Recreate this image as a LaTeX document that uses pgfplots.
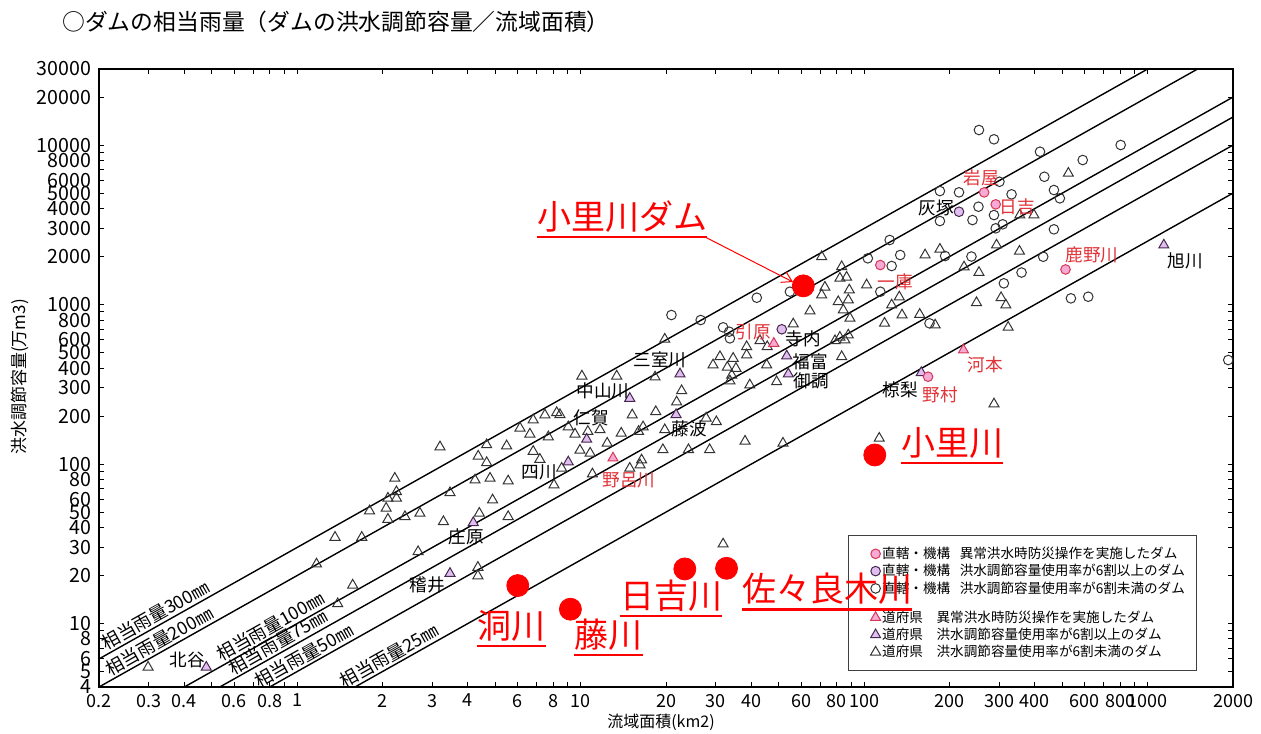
\documentclass[border=0pt]{standalone}
\usepackage{pgfplots}
\pgfplotsset{compat=1.18}
\usepackage{fontspec}
\setmainfont{Noto Sans CJK JP}
\usetikzlibrary{arrows.meta}
\definecolor{pinkF}{RGB}{247,170,214}
\definecolor{pinkE}{RGB}{215,55,85}
\definecolor{purF}{RGB}{225,190,240}
\definecolor{purE}{RGB}{70,40,80}
\definecolor{lblred}{RGB}{225,50,55}
\newcommand\ulab[3]{%
  \node[text=red, font=\fontsize{17}{17}\selectfont, inner sep=0pt, anchor=base] (u) at (#1,#2+3.8pt) {#3};
  \draw[red, line width=1.3pt] (u.west|-0,#2) -- (u.east|-0,#2);}
\begin{document}
\begin{tikzpicture}
\useasboundingbox (-49.5pt,-23pt) rectangle (581pt,343.5pt);
\begin{axis}[
  scale only axis, width=567pt, height=309pt,
  xmode=log, ymode=log,
  xmin=0.2, xmax=2000, ymin=4, ymax=30000,
  xtick={0.2,0.3,0.4,0.6,0.8,1,2,3,4,6,8,10,20,30,40,60,80,100,200,300,400,600,800,1000,2000},
  xticklabels={0.2,0.3,0.4,0.6,0.8,1,2,3,4,6,8,10,20,30,40,60,80,100,200,300,400,600,800,1000,2000},
  minor xtick={0.5,0.7,0.9,5,7,9,50,70,90,500,700,900},
  ytick={4,5,6,8,10,20,30,40,50,60,80,100,200,300,400,500,600,800,1000,2000,3000,4000,5000,6000,8000,10000,20000,30000},
  yticklabels={4,5,6,8,10,20,30,40,50,60,80,100,200,300,400,500,600,800,1000,2000,3000,4000,5000,6000,8000,10000,20000,30000},
  minor ytick={7,9,70,90,700,900,7000,9000},
  tick align=inside,
  major tick length=2.5pt, minor tick length=2.5pt,
  tick style={black, line width=0.5pt},
  axis line style={line width=0.6pt},
  /pgf/number format/assume math mode=true,
  yticklabel style={font=\fontsize{9.8}{10}\selectfont, xshift=-0.5pt},
  xticklabel style={font=\fontsize{9}{10}\selectfont},
  legend cell align=left,
  legend style={at={(0.6605,0.246)}, anchor=north west, font=\fontsize{6.8}{8}\selectfont,
    draw=black!75, line width=0.5pt, inner xsep=5pt, inner ysep=5pt,
    nodes={inner sep=0.8pt, text depth=0.1em}, row sep=0.3pt},
]
% legend images
\addlegendimage{only marks, mark=*, mark size=2.4pt, mark options={fill=pinkF, draw=pinkE, line width=0.5pt}}
\addlegendentry{直轄・機構\hspace{0.7em}異常洪水時防災操作を実施したダム}
\addlegendimage{only marks, mark=*, mark size=2.4pt, mark options={fill=purF, draw=purE, line width=0.5pt}}
\addlegendentry{直轄・機構\hspace{0.7em}洪水調節容量使用率が6割以上のダム}
\addlegendimage{only marks, mark=o, mark size=2.4pt, mark options={draw=black!80, line width=0.5pt}}
\addlegendentry{直轄・機構\hspace{0.7em}洪水調節容量使用率が6割未満のダム}
\addlegendimage{empty legend}
\addlegendentry{\rule{0pt}{3pt}}
\addlegendimage{only marks, mark=triangle*, mark size=2.9pt, mark options={fill=pinkF, draw=pinkE, line width=0.5pt}}
\addlegendentry{道府県\hspace{1em}異常洪水時防災操作を実施したダム}
\addlegendimage{only marks, mark=triangle*, mark size=2.9pt, mark options={fill=purF, draw=purE, line width=0.5pt}}
\addlegendentry{道府県\hspace{1em}洪水調節容量使用率が6割以上のダム}
\addlegendimage{only marks, mark=triangle, mark size=2.9pt, mark options={draw=black!80, line width=0.5pt}}
\addlegendentry{道府県\hspace{1em}洪水調節容量使用率が6割未満のダム}

% equivalent rainfall lines (capacity = 0.1 * R * area)
\addplot[black, line width=0.7pt, no marks, forget plot] coordinates {(0.2,6) (2000,60000)};
\addplot[black, line width=0.7pt, no marks, forget plot] coordinates {(0.2,4) (2000,40000)};
\addplot[black, line width=0.7pt, no marks, forget plot] coordinates {(0.2,2) (2000,20000)};
\addplot[black, line width=0.7pt, no marks, forget plot] coordinates {(0.2,1.5) (2000,15000)};
\addplot[black, line width=0.7pt, no marks, forget plot] coordinates {(0.2,1) (2000,10000)};
\addplot[black, line width=0.7pt, no marks, forget plot] coordinates {(0.2,0.5) (2000,5000)};

\node[rotate=29.36, anchor=south, inner sep=1pt, font=\fontsize{9}{9}\selectfont] at (axis cs:0.33,9.9) {相当雨量300㎜};
\node[rotate=29.36, anchor=south, inner sep=1pt, font=\fontsize{9}{9}\selectfont] at (axis cs:0.34,6.8) {相当雨量200㎜};
\node[rotate=29.36, anchor=south, inner sep=1pt, font=\fontsize{9}{9}\selectfont] at (axis cs:0.84,8.4) {相当雨量100㎜};
\node[rotate=29.36, anchor=south, inner sep=1pt, font=\fontsize{9}{9}\selectfont] at (axis cs:0.89,6.68) {相当雨量75㎜};
\node[rotate=29.36, anchor=south, inner sep=1pt, font=\fontsize{9}{9}\selectfont] at (axis cs:1.10,5.5) {相当雨量50㎜};
\node[rotate=29.36, anchor=south, inner sep=1pt, font=\fontsize{9}{9}\selectfont] at (axis cs:2.2,5.5) {相当雨量25㎜};

% open triangles
\addplot[only marks, mark=triangle, mark size=2.9pt, mark options={draw=black!80, line width=0.5pt}, forget plot] coordinates {
(0.298,5.32) (1.17,23.6) (1.57,17.4) (1.39,13.3) (1.36,34.7) (1.69,34.7) (1.80,50.8) (2.06,52.8) (2.09,61) (2.24,61) (2.24,67) (2.21,81.4) (2.09,45) (4.34,22.5) (4.34,19.9) (2.67,28.2) (2.40,46.8) (2.71,49.1) (3.28,43.5) (4.39,49.1) (5.55,46.8) (3.46,66.1) (4.89,59.5) (4.24,79.4) (4.79,81.4) (5.55,78.3) (8.05,73.9) (3.19,128) (4.66,132) (5.48,130) (4.35,112) (4.66,102) (6.11,168) (6.62,154) (6.80,189) (7.48,203) (8.23,210) (8.45,204) (7.69,148) (6.80,120) (7.18,107) (9.04,171) (9.55,154) (10.6,160) (11.7,164) (9.94,122) (10.8,117) (12.4,135) (13.9,156) (15.2,203) (16.0,160) (16.6,171) (16.4,106) (8.57,94) (11.0,86.6) (14.9,94) (16.2,98.6) (10.1,356) (13.4,356) (18.3,351) (19.8,606) (22.7,288) (21.8,245) (18.4,213) (19.8,164) (27.7,194) (30.1,184) (19.5,123) (24.0,123) (28.5,123) (38.0,139) (51.7,135) (113,145) (31.8,31.5) (29.3,418) (31.0,471) (32.9,404) (34.5,460) (35.3,398) (34.1,361) (33.6,332) (38.5,544) (38.5,483) (42.9,593) (45.5,544) (45.3,418) (39.5,313) (49.1,328) (56.2,755) (64.4,911) (70.8,1995) (83.3,1727) (86.7,1482) (82.1,1461) (72.7,1283) (70.8,1148) (88.6,1234) (87.9,1068) (81.0,1042) (84.4,924) (89.1,820) (87.9,644) (82.1,623) (78.9,593) (85.5,599) (83.3,471) (118,763) (125,993) (102,1326) (136,860) (157,867) (178,744) (164,2045) (185,2220) (225,1720) (254,1588) (293,2360) (353,2157) (249,1027) (304,1104) (316,993) (322,720) (287,238) (525,6650) (354,3640) (397,3640) (133,1115)
};
% open circles
\addplot[only marks, mark=o, mark size=2.4pt, mark options={draw=black!80, line width=0.5pt}, forget plot] coordinates {
(20.9,860) (26.5,800) (31.8,720) (33.4,676) (33.6,614) (41.8,1104) (54.7,1204) (103,1950) (114,1204) (125,1745) (123,2540) (134,2045) (193,2016) (239,2001) (428,1995) (311,1359) (359,1588) (536,1094) (617,1120) (170,763) (185,5150) (185,3340) (216,5055) (254,12430) (287,10870) (417,9085) (803,10010) (590,8060) (432,6330) (300,5890) (331,4910) (467,5225) (490,4636) (253,4108) (287,3641) (241,3389) (308,3185) (291,3006) (467,2963) (1924,449)
};
% pink triangles
\addplot[only marks, mark=triangle*, mark size=2.9pt, mark options={fill=pinkF, draw=pinkE, line width=0.5pt}, forget plot] coordinates {
(48,571) (224,519) (13.0,109)
};
% purple triangles
\addplot[only marks, mark=triangle*, mark size=2.9pt, mark options={fill=purF, draw=purE, line width=0.5pt}, forget plot] coordinates {
(22.4,367) (14.9,258) (10.5,143) (21.7,204) (9.04,103) (4.18,42.9) (3.46,20.6) (0.478,5.32) (53.3,476) (54,367) (159,374) (1140,2360)
};
% pink circles
\addplot[only marks, mark=*, mark size=2.4pt, mark options={fill=pinkF, draw=pinkE, line width=0.5pt}, forget plot] coordinates {
(265,5050) (291,4250) (114,1770) (513,1660) (168,353)
};
% purple circles
\addplot[only marks, mark=*, mark size=2.4pt, mark options={fill=purF, draw=purE, line width=0.5pt}, forget plot] coordinates {
(216,3820) (51.2,700)
};
% red highlighted dams
\addplot[only marks, mark=*, mark size=5.5pt, mark options={fill=red, draw=red}, forget plot] coordinates {
(61,1310) (109,114) (6.0,17.3) (9.2,12.3) (23.3,22) (32.7,22.2)
};
\end{axis}
% title and axis labels
\node[anchor=west, font=\fontsize{11.4}{11.4}\selectfont, inner sep=0pt] at (-18.5pt,332.5pt) {○ダムの相当雨量（ダムの洪水調節容量／流域面積）};
\node[rotate=90, font=\fontsize{8.5}{8.5}\selectfont] at (-39.5pt,155pt) {洪水調節容量(万m3)};
\node[font=\fontsize{8}{8}\selectfont] at (281pt,-17.5pt) {流域面積(km2)};
% dam names
\begin{scope}[every node/.style={font=\fontsize{8.8}{8.8}\selectfont, inner sep=0pt}]
\node[text=lblred] at (441pt,254.5pt) {岩屋};
\node[text=lblred] at (459pt,240pt) {日吉};
\node at (418.5pt,239.5pt) {灰塚};
\node[text=lblred] at (496.5pt,216pt) {鹿野川};
\node at (543pt,213pt) {旭川};
\node[text=lblred] at (398pt,202.5pt) {一庫};
\node[text=lblred] at (327pt,177.5pt) {引原};
\node at (352pt,174pt) {寺内};
\node at (355.5pt,162.5pt) {福富};
\node at (356pt,153pt) {御調};
\node at (280.5pt,163.5pt) {三室川};
\node at (252pt,148pt) {中山川};
\node at (246pt,134.5pt) {仁賀};
\node at (295pt,129pt) {藤波};
\node at (220pt,107.5pt) {四川};
\node[text=lblred] at (265pt,103.5pt) {野呂川};
\node at (183.5pt,75pt) {庄原};
\node at (164pt,51pt) {稽井};
\node at (44pt,13.5pt) {北谷};
\node at (400.5pt,148.5pt) {椋梨};
\node[text=lblred] at (420.5pt,146pt) {野村};
\node[text=lblred] at (443pt,161pt) {河本};
\end{scope}
% highlighted annotations
\ulab{261.5pt}{225pt}{小里川ダム}
\ulab{426.5pt}{112pt}{小里川}
\ulab{206.25pt}{20.5pt}{洞川}
\ulab{254.75pt}{16pt}{藤川}
\ulab{286pt}{35.6pt}{日吉川}
\ulab{364pt}{38.8pt}{佐々良木川}
\draw[red, line width=0.5pt, -{Straight Barb[length=5pt,width=6pt]}] (303pt,225pt) -- (347pt,202.5pt);
\end{tikzpicture}
\end{document}
